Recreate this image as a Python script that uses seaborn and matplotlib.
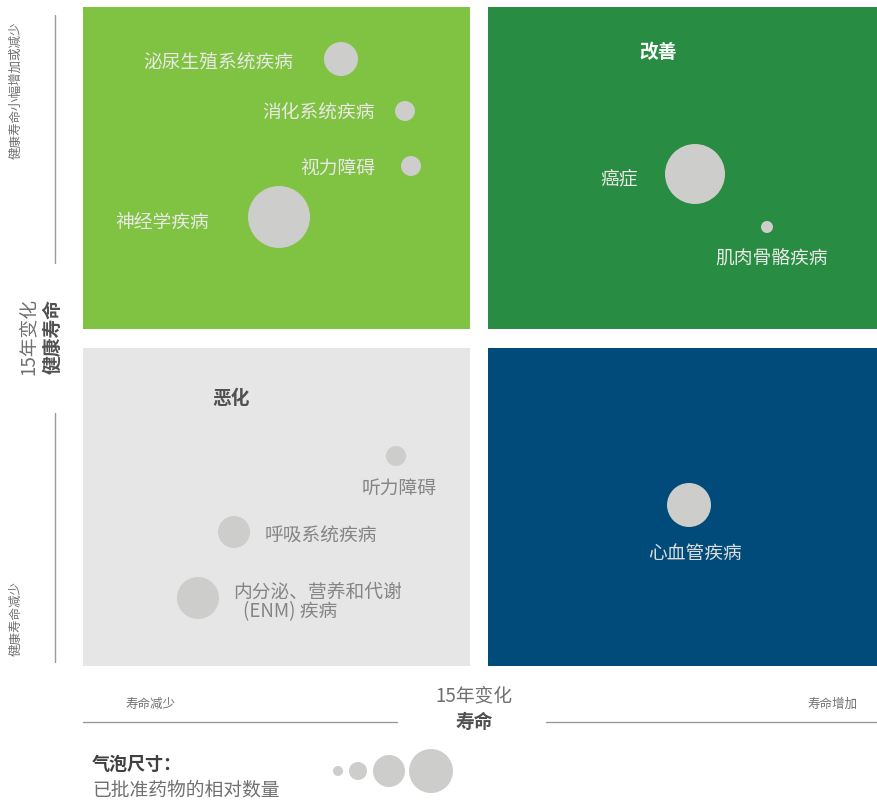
import matplotlib
matplotlib.use("Agg")
from matplotlib import pyplot as plt
from matplotlib.patches import Rectangle
import numpy as np
import pandas as pd
import seaborn as sb

sb.set_theme(style="white")
plt.rcParams['font.family'] = ['Noto Sans CJK SC', 'DejaVu Sans']

# quadrants (left, top, right, bottom) in picture units
quad_names = ["up_left", "up_right", "low_left", "low_right"]
quad_colors = ["#80c241", "#288c42", "#e7e6e6", "#004b7a"]
quad_x0 = [83, 488, 83, 488]
quad_x1 = [470, 878, 470, 878]
quad_y0 = [7, 7, 348, 348]
quad_y1 = [329, 329, 666, 666]

# bubbles
diseases = ["泌尿生殖系统疾病", "消化系统疾病", "视力障碍", "神经学疾病", "癌症",
            "肌肉骨骼疾病", "听力障碍", "呼吸系统疾病", "内分泌、营养和代谢", "心血管疾病"]
bx = [341, 405, 411, 279, 695, 767, 396, 234, 198, 689]
by = [59, 111, 166, 217, 174, 227, 456, 532, 598, 505]
br = [17, 10, 10, 31, 30, 6, 10, 16, 21, 22]

# label placement per bubble
lx = [293, 375, 375, 115, 638, 772, 399, 265, 233, 695]
ly = [62, 113, 169, 222, 179, 258, 488, 536, 592, 553]
lha = ["right", "right", "right", "left", "right", "center", "center", "left", "left", "center"]
lcol = ["#e8e8e6"] * 6 + ["#858585"] * 3 + ["#dcdcdc"]

# legend bubbles
leg_x = [338, 358, 389, 431]
leg_r = [5, 9, 16, 22]
leg_y = 771

dpi = 100
fig = plt.figure(figsize=(8.78, 8.0), dpi=dpi)
ax = fig.add_axes([0, 0, 1, 1])
ax.set_xlim(0, 878)
ax.set_ylim(800, 0)
ax.axis("off")

for i in range(len(quad_names)):
    ax.add_patch(Rectangle((quad_x0[i], quad_y0[i]), quad_x1[i] - quad_x0[i],
                           quad_y1[i] - quad_y0[i], color=quad_colors[i], lw=0, zorder=0))

df = pd.DataFrame({"x": bx, "y": by, "r": br, "name": diseases})
# marker size in points^2 from radius in pixels
df["s"] = (2 * df["r"] * 72 / dpi) ** 2
sb.scatterplot(data=df, x="x", y="y", s=df["s"], color="#cdcdcb", linewidth=0, ax=ax, zorder=3, legend=False)

for i in range(len(diseases)):
    ax.text(lx[i], ly[i], diseases[i], ha=lha[i], va="center", fontsize=13.5,
            color=lcol[i], fontweight="light", zorder=4)
ax.text(243, 612, "(ENM) 疾病", ha="left", va="center", fontsize=13.5, color="#858585", fontweight="light")

ax.text(658, 53, "改善", ha="center", va="center", fontsize=13.5, fontweight="bold", color="white")
ax.text(231, 398, "恶化", ha="center", va="center", fontsize=13.5, fontweight="bold", color="#505050")

# left axis
ax.plot([55, 55], [15, 263], color="#9a9a9a", lw=1)
ax.plot([55, 55], [413, 662], color="#9a9a9a", lw=1)
ax.text(28, 336, "15年变化", rotation=90, ha="center", va="center", fontsize=13.5, color="#707070", fontweight="light")
ax.text(53, 336, "健康寿命", rotation=90, ha="center", va="center", fontsize=13.5, fontweight="bold", color="#505050")
ax.text(16, 90, "健康寿命小幅增加或减少", rotation=90, ha="center", va="center", fontsize=9, color="#707070", fontweight="light")
ax.text(16, 619, "健康寿命减少", rotation=90, ha="center", va="center", fontsize=9, color="#707070", fontweight="light")

# bottom axis
ax.plot([83, 397], [722, 722], color="#9a9a9a", lw=1)
ax.plot([546, 878], [722, 722], color="#9a9a9a", lw=1)
ax.text(125, 704, "寿命减少", ha="left", va="center", fontsize=9, color="#707070", fontweight="light")
ax.text(857, 704, "寿命增加", ha="right", va="center", fontsize=9, color="#707070", fontweight="light")
ax.text(474, 696, "15年变化", ha="center", va="center", fontsize=13.5, color="#707070", fontweight="light")
ax.text(474, 722, "寿命", ha="center", va="center", fontsize=13.5, fontweight="bold", color="#505050")

# size legend
leg = pd.DataFrame({"x": leg_x, "y": [leg_y] * len(leg_x), "r": leg_r})
leg["s"] = (2 * leg["r"] * 72 / dpi) ** 2
sb.scatterplot(data=leg, x="x", y="y", s=leg["s"], color="#cdcdcb", linewidth=0, ax=ax, legend=False)
ax.text(92, 764, "气泡尺寸：", ha="left", va="center", fontsize=13, fontweight="bold", color="#404040")
ax.text(92, 790, "已批准药物的相对数量", ha="left", va="center", fontsize=13.5, color="#707070", fontweight="light")

ax.set_xlabel("")
ax.set_ylabel("")
fig.savefig("out.png", dpi=dpi)
